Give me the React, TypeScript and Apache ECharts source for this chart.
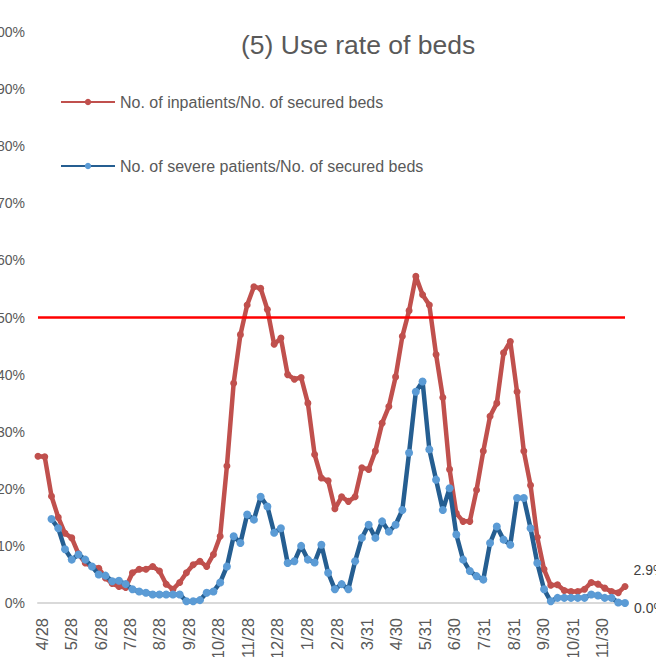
import React, { useEffect, useRef } from "react";
import * as echarts from "echarts";

// Weekly series (percent)
const inpatientRate: number[] = [
  25.7, 25.6, 18.7, 15.0, 12.2, 11.4, 8.6, 7.0, 6.4, 6.1,
  4.4, 3.4, 2.9, 2.7, 5.3, 5.9, 5.9, 6.4, 5.6, 3.3,
  2.4, 3.6, 5.3, 6.7, 7.3, 6.4, 8.5, 11.7, 24.0, 38.5,
  47.0, 52.2, 55.4, 55.1, 51.4, 45.3, 46.4, 40.0, 39.2, 39.5,
  35.0, 26.0, 21.9, 21.4, 16.5, 18.6, 17.8, 18.6, 23.7, 23.4,
  26.6, 31.5, 34.4, 39.6, 46.7, 51.2, 57.2, 54.0, 52.2, 43.5,
  36.0, 23.4, 15.7, 14.3, 14.3, 19.8, 26.6, 32.7, 35.0, 43.8,
  45.8, 37.0, 26.6, 20.6, 11.5, 5.9, 3.1, 3.2, 2.2, 2.0,
  2.0, 2.4, 3.6, 3.3, 2.6, 2.0, 1.8, 2.9,
];

const severeRate: (number | null)[] = [
  null, null, 14.7, 13.1, 9.4, 7.6, 8.5, 7.6, 6.4, 5.0,
  4.8, 3.8, 3.9, 3.3, 2.4, 2.0, 1.8, 1.5, 1.5, 1.5,
  1.5, 1.5, 0.3, 0.3, 0.5, 1.8, 2.0, 3.6, 6.4, 11.7,
  10.5, 15.5, 14.6, 18.6, 16.9, 12.3, 13.1, 7.0, 7.3, 10.0,
  7.6, 7.1, 10.2, 5.3, 2.4, 3.3, 2.4, 7.3, 11.4, 13.7,
  11.4, 14.3, 12.5, 13.7, 16.3, 26.3, 37.0, 38.8, 26.9, 21.6,
  16.3, 20.1, 12.0, 7.6, 5.6, 4.7, 4.1, 10.5, 13.4, 11.1,
  10.2, 18.4, 18.4, 13.1, 7.0, 2.4, 0.3, 0.9, 0.9, 0.9,
  0.9, 0.9, 1.5, 1.3, 0.9, 0.9, 0.1, 0.0,
];

const firstWeek = "2020-04-24";

const tickDates: string[] = [
  "2020-04-28", "2020-05-28", "2020-06-28", "2020-07-28", "2020-08-28",
  "2020-09-28", "2020-10-28", "2020-11-28", "2020-12-28", "2021-01-28",
  "2021-02-28", "2021-03-31", "2021-04-30", "2021-05-31", "2021-06-30",
  "2021-07-31", "2021-08-31", "2021-09-30", "2021-10-31", "2021-11-30",
];

const yTicks: number[] = [0, 10, 20, 30, 40, 50, 60, 70, 80, 90, 100];
const threshold: number[] = [50];

const seriesNames: string[] = [
  "No. of inpatients/No. of secured beds",
  "No. of severe patients/No. of secured beds",
];

const FONT = "'Liberation Sans', Arial, sans-serif";
const DAY = 86400000;

function parseUTC(s: string): number {
  const [y, m, d] = s.split("-").map(Number);
  return Date.UTC(y, m - 1, d);
}

export default function App() {
  const ref = useRef<HTMLDivElement>(null);

  useEffect(() => {
    if (!ref.current) return;
    const chart = echarts.init(ref.current, undefined, { renderer: "svg" });

    const start = parseUTC(firstWeek);
    // x = days since first week
    const days = inpatientRate.map((_, i) => i * 7);
    const last = inpatientRate.length - 1;
    const tickDays = tickDates.map((s) => Math.round((parseUTC(s) - start) / DAY));

    const lastLabel = (offset: number[]) => ({
      show: true,
      position: "right",
      distance: 5,
      offset,
      fontSize: 14,
      color: "#404040",
      fontFamily: FONT,
      formatter: (p: any) => `${Number(p.value[1]).toFixed(1)}%`,
    });

    const redData = inpatientRate.map((v, i) =>
      i === last
        ? { value: [days[i], v], label: lastLabel([0, -16]) }
        : [days[i], v]
    );
    const blueData: any[] = [];
    severeRate.forEach((v, i) => {
      if (v === null) return;
      blueData.push(
        i === last
          ? { value: [days[i], v], label: lastLabel([0, 5]) }
          : [days[i], v]
      );
    });

    chart.setOption({
      animation: false,
      backgroundColor: "#ffffff",
      title: {
        text: "(5) Use rate of beds",
        left: 241,
        top: 31,
        padding: 0,
        textStyle: {
          fontSize: 26.5,
          fontWeight: "normal",
          color: "#595959",
          fontFamily: FONT,
        },
      },
      legend: {
        orient: "vertical",
        left: 60,
        top: 94,
        itemWidth: 54,
        itemHeight: 8,
        itemGap: 48,
        padding: 0,
        data: seriesNames,
        textStyle: { fontSize: 16, color: "#595959", fontFamily: FONT },
      },
      graphic: [
        {
          type: "text",
          x: 221,
          y: -6,
          rotation: Math.PI / 2,
          style: { text: "1", fontSize: 12, fill: "#7f7f7f", fontFamily: FONT },
        },
      ],
      grid: {
        left: 38,
        right: 31,
        top: 32,
        bottom: 54,
        containLabel: false,
        outerBoundsMode: "none",
      },
      xAxis: {
        type: "value",
        min: days[0],
        max: days[last],
        axisLine: { show: true, lineStyle: { color: "#D9D9D9", width: 2 } },
        axisTick: { show: false },
        splitLine: { show: false },
        axisLabel: {
          rotate: 90,
          margin: 15,
          fontSize: 16.5,
          color: "#595959",
          fontFamily: FONT,
          hideOverlap: false,
          showMinLabel: true,
          showMaxLabel: true,
          customValues: tickDays,
          formatter: (val: number) => {
            const d = new Date(start + val * DAY);
            return `${d.getUTCMonth() + 1}/${d.getUTCDate()}`;
          },
        },
      },
      yAxis: {
        type: "value",
        min: yTicks[0],
        max: yTicks[yTicks.length - 1],
        interval: 10,
        axisLine: { show: false },
        axisTick: { show: false },
        splitLine: { show: false },
        axisLabel: {
          margin: 13,
          fontSize: 14,
          color: "#595959",
          fontFamily: FONT,
          formatter: "{value}%",
        },
      },
      series: [
        {
          name: seriesNames[0],
          type: "line",
          data: redData,
          symbol: "circle",
          symbolSize: 7,
          showSymbol: true,
          showAllSymbol: true,
          lineStyle: { color: "#C0504D", width: 4.5 },
          itemStyle: { color: "#C0504D" },
          emphasis: { disabled: true },
          z: 2,
          markLine: {
            silent: true,
            symbol: ["none", "none"],
            label: { show: false },
            lineStyle: { color: "#FF0000", width: 2.5, type: "solid" },
            data: threshold.map((t) => ({ yAxis: t })),
          },
        },
        {
          name: seriesNames[1],
          type: "line",
          data: blueData,
          symbol: "circle",
          symbolSize: 8,
          showSymbol: true,
          showAllSymbol: true,
          lineStyle: { color: "#255E91", width: 4.5 },
          itemStyle: { color: "#5B9BD5" },
          emphasis: { disabled: true },
          z: 3,
        },
      ],
    });

    return () => chart.dispose();
  }, []);

  return (
    <div
      style={{
        position: "fixed",
        left: 0,
        top: 0,
        width: 656,
        height: 657,
        overflow: "hidden",
        background: "#ffffff",
      }}
    >
      <div ref={ref} style={{ width: 656, height: 657 }} />
    </div>
  );
}
